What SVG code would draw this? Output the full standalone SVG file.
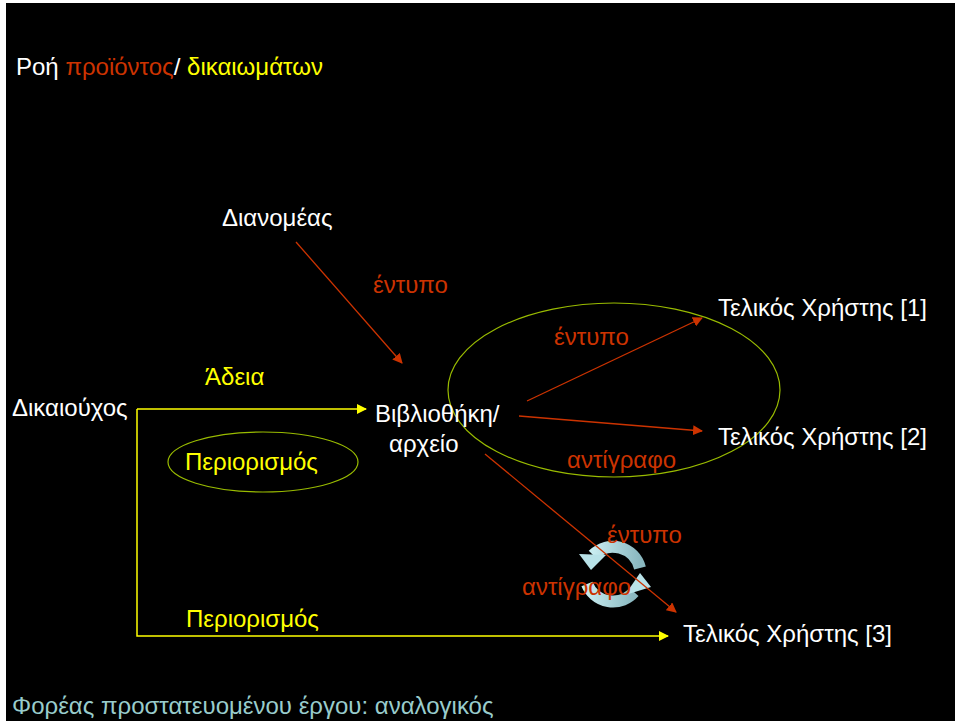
<svg xmlns="http://www.w3.org/2000/svg" width="955" height="721" viewBox="0 0 955 721">
<style>
text{font-family:"Liberation Sans",Arial,sans-serif;font-size:24px}
.w{fill:#ffffff}.r{fill:#cc3300}.y{fill:#ffff00}.b{fill:#99cccc}
.rl{stroke:#cc3300;stroke-width:1.3;fill:none}
.yl{stroke:#ffff00;stroke-width:1.5;fill:none}
.el{stroke:#99bb00;stroke-width:1.2;fill:none}
</style>
<defs>
<marker id="ar" viewBox="0 0 10 10" refX="9" refY="5" markerWidth="10" markerHeight="10" markerUnits="userSpaceOnUse" orient="auto"><path d="M0,0L10,5L0,10z" fill="#cc3300"/></marker>
<marker id="ay" viewBox="0 0 10 10" refX="9" refY="5" markerWidth="10" markerHeight="10" markerUnits="userSpaceOnUse" orient="auto"><path d="M0,0L10,5L0,10z" fill="#ffff00"/></marker>
<linearGradient id="cg" x1="0" y1="0" x2="1" y2="0"><stop offset="0" stop-color="#c8ecf0"/><stop offset="1" stop-color="#8ab8c0"/></linearGradient>
</defs>
<rect x="0" y="0" width="955" height="721" fill="#ffffff"/>
<rect x="6" y="3" width="949" height="718" fill="#000000"/>
<text x="16" y="75"><tspan class="w">Ροή </tspan><tspan class="r">προϊόντος</tspan><tspan class="w">/ </tspan><tspan class="y">δικαιωμάτων</tspan></text>
<g id="ellipses">
<ellipse cx="614" cy="390" rx="166" ry="87" class="el"/>
<ellipse cx="263" cy="462" rx="95" ry="30" class="el"/>
</g>
<g id="cycle">
<path d="M640,568 A28,28 0 0 0 593,555" stroke="url(#cg)" stroke-width="12" fill="none"/>
<path d="M579,554 L606,555 L591,570 z" fill="#b8e2e8"/>
<path d="M587,584 A28,28 0 0 0 634,592" stroke="url(#cg)" stroke-width="12" fill="none"/>
<path d="M625,595 L651,587 L640,573 z" fill="#b8e2e8"/>
</g>
<g id="connectors">
<line x1="296" y1="242" x2="402" y2="363" class="rl" marker-end="url(#ar)"/>
<line x1="527" y1="401" x2="702" y2="318" class="rl" marker-end="url(#ar)"/>
<line x1="519" y1="416" x2="702" y2="431" class="rl" marker-end="url(#ar)"/>
<line x1="485" y1="454" x2="676" y2="612" class="rl" marker-end="url(#ar)"/>
<line x1="137" y1="409" x2="366" y2="409" class="yl" marker-end="url(#ay)"/>
<polyline points="137,409 137,636 668,636" class="yl" marker-end="url(#ay)"/>
</g>
<g id="n-dianomeas"><text x="222" y="226" class="w">Διανομέας</text></g>
<g id="n-dikaiouchos"><text x="12" y="416" class="w">Δικαιούχος</text></g>
<g id="n-vivliothiki"><text x="375" y="422" class="w">Βιβλιοθήκη/</text><text x="389" y="452" class="w">αρχείο</text></g>
<g id="n-user1"><text x="718" y="316" class="w">Τελικός Χρήστης [1]</text></g>
<g id="n-user2"><text x="718" y="445" class="w">Τελικός Χρήστης [2]</text></g>
<g id="n-user3"><text x="683" y="642" class="w">Τελικός Χρήστης [3]</text></g>
<g id="labels">
<text x="373" y="293" class="r">έντυπο</text>
<text x="554" y="345" class="r">έντυπο</text>
<text x="567" y="468" class="r">αντίγραφο</text>
<text x="607" y="543" class="r">έντυπο</text>
<text x="522" y="595" class="r">αντίγραφο</text>
<text x="205" y="385" class="y">Άδεια</text>
<text x="185" y="470" class="y">Περιορισμός</text>
<text x="186" y="627" class="y">Περιορισμός</text>
</g>
<text x="12" y="714" class="b">Φορέας προστατευομένου έργου: αναλογικός</text>
</svg>
